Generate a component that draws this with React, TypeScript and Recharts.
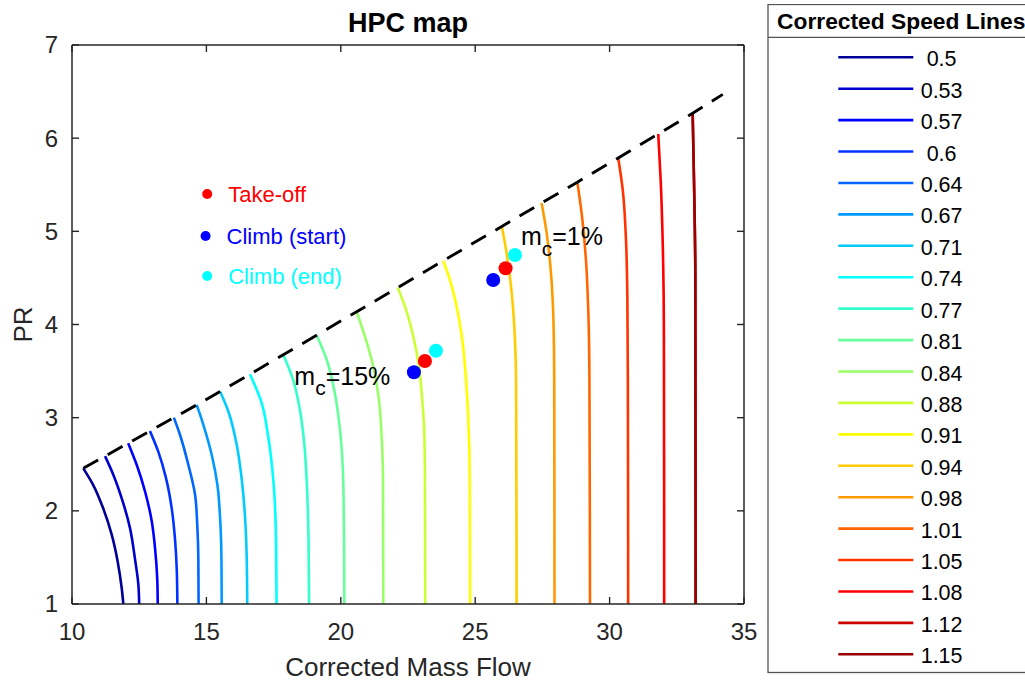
import React from 'react';
import { ComposedChart, Line, Scatter, XAxis, YAxis, Legend, Label } from 'recharts';

const FONT = '"Liberation Sans", Arial, Helvetica, sans-serif';
const AXIS_COLOR = '#262626';

const xTicks = [10, 15, 20, 25, 30, 35];
const yTicks = [1, 2, 3, 4, 5, 6, 7];

const speedLabels = [' 0.5', '0.53', '0.57', ' 0.6', '0.64', '0.67', '0.71', '0.74', '0.77', '0.81',
  '0.84', '0.88', '0.91', '0.94', '0.98', '1.01', '1.05', '1.08', '1.12', '1.15'];

const speedColors = ['#000099', '#0000CC', '#0000FF', '#0033FF', '#0066FF', '#0099FF', '#00CCFF', '#00FFFF',
  '#33FFCC', '#66FF99', '#99FF66', '#CCFF33', '#FFFF00', '#FFCC00', '#FF9900', '#FF6600', '#FF3300',
  '#FF0000', '#CC0000', '#990000'];

type P = { x: number; y: number };
const pts = (a: number[][]): P[] => a.map(([x, y]) => ({ x, y }));

const n050 = pts([[10.42, 2.456], [10.79, 2.277], [11.16, 2.027], [11.48, 1.741], [11.70, 1.454], [11.85, 1.169], [11.91, 1.0]]);
const n053 = pts([[11.23, 2.587], [11.54, 2.385], [11.85, 2.134], [12.16, 1.812], [12.34, 1.490], [12.47, 1.204], [12.50, 1.0]]);
const n057 = pts([[12.09, 2.726], [12.41, 2.492], [12.72, 2.205], [12.97, 1.883], [13.09, 1.598], [13.17, 1.276], [13.19, 1.0]]);
const n060 = pts([[12.90, 2.856], [13.21, 2.635], [13.50, 2.349], [13.71, 2.027], [13.83, 1.705], [13.90, 1.347], [13.92, 1.0]]);
const n064 = pts([[13.79, 3.000], [14.02, 2.814], [14.33, 2.492], [14.58, 2.170], [14.66, 1.848], [14.70, 1.490], [14.71, 1.0]]);
const n067 = pts([[14.64, 3.137], [14.89, 2.921], [15.20, 2.599], [15.41, 2.277], [15.51, 1.920], [15.56, 1.490], [15.57, 1.0]]);
const n071 = pts([[15.51, 3.281], [15.82, 3.064], [16.13, 2.707], [16.31, 2.349], [16.44, 1.920], [16.50, 1.490], [16.52, 1.0]]);
const n074 = pts([[16.62, 3.466], [17.06, 3.154], [17.30, 2.796], [17.49, 2.331], [17.59, 1.687], [17.61, 1.0]]);
const n077 = pts([[17.86, 3.675], [18.23, 3.404], [18.48, 3.082], [18.64, 2.725], [18.73, 2.331], [18.80, 1.687], [18.82, 1.0]]);
const n081 = pts([[19.10, 3.885], [19.48, 3.619], [19.78, 3.261], [19.97, 2.868], [20.09, 2.331], [20.12, 1.687], [20.13, 1.0]]);
const n084 = pts([[20.59, 4.137], [20.90, 3.869], [21.21, 3.547], [21.42, 3.190], [21.52, 2.796], [21.57, 2.331], [21.58, 1.0]]);
const n088 = pts([[22.12, 4.396], [22.39, 4.191], [22.70, 3.869], [22.91, 3.547], [23.03, 3.190], [23.11, 2.796], [23.13, 2.331], [23.14, 1.0]]);
const n091 = pts([[23.81, 4.684], [24.06, 4.478], [24.31, 4.191], [24.52, 3.834], [24.65, 3.440], [24.74, 3.011], [24.80, 2.331], [24.81, 1.0]]);
const n094 = pts([[25.99, 5.052], [26.17, 4.764], [26.36, 4.335], [26.48, 3.834], [26.52, 3.404], [26.54, 1.0]]);
const n098 = pts([[27.47, 5.304], [27.66, 4.979], [27.82, 4.549], [27.91, 4.048], [27.94, 3.404], [27.95, 1.0]]);
const n101 = pts([[28.80, 5.528], [28.96, 5.193], [29.12, 4.692], [29.21, 4.120], [29.25, 3.404], [29.27, 1.0]]);
const n105 = pts([[30.32, 5.787], [30.49, 5.443], [30.61, 4.907], [30.66, 4.298], [30.68, 3.404], [30.69, 1.0]]);
const n108 = pts([[31.81, 6.045], [31.90, 5.551], [31.98, 4.835], [32.02, 3.941], [32.03, 1.0]]);
const n112 = pts([[33.09, 6.267], [33.14, 5.551], [33.19, 4.477], [33.20, 1.0]]);
const n115 = pts([[33.09, 6.267], [33.14, 5.551], [33.19, 4.477], [33.20, 1.0]]);

const speedData = [n050, n053, n057, n060, n064, n067, n071, n074, n077, n081,
  n084, n088, n091, n094, n098, n101, n105, n108, n112, n115];

const surgeLine = pts([[10.42, 2.456], [11.23, 2.587], [12.09, 2.726], [12.90, 2.856], [13.79, 3.000], [14.64, 3.137],
  [15.51, 3.281], [16.62, 3.466], [17.86, 3.675], [19.10, 3.885], [20.59, 4.137], [22.12, 4.396], [23.81, 4.684],
  [25.99, 5.052], [27.47, 5.304], [28.80, 5.528], [30.32, 5.787], [31.81, 6.045], [33.09, 6.267], [34.21, 6.47]]);

const takeOff = pts([[23.13, 3.608], [26.13, 4.603]]);
const climbStart = pts([[22.72, 3.487], [25.67, 4.477]]);
const climbEnd = pts([[23.54, 3.719], [26.48, 4.746]]);

const keyItems = [
  { x: 15.03, y: 5.40, label: 'Take-off', color: '#FF0000' },
  { x: 14.97, y: 4.95, label: 'Climb (start)', color: '#0000FF' },
  { x: 15.03, y: 4.52, label: 'Climb (end)', color: '#00FFFF' },
];

const annotations = [
  { x: 26.70, y: 4.853, base: 'm', sub: 'c', rest: '=1%' },
  { x: 18.27, y: 3.351, base: 'm', sub: 'c', rest: '=15%' },
];

const BottomTick = (props: any) => {
  const { x, y, payload } = props;
  return (
    <g>
      <line x1={x} x2={x} y1={y} y2={y - 7} stroke={AXIS_COLOR} strokeWidth={1.4} />
      <text x={x} y={y + 36} textAnchor="middle" fontFamily={FONT} fontSize={24} fill={AXIS_COLOR}>{payload.value}</text>
    </g>
  );
};
const TopTick = (props: any) => {
  const { x, y } = props;
  return <line x1={x} x2={x} y1={y} y2={y + 7} stroke={AXIS_COLOR} strokeWidth={1.4} />;
};
const LeftTick = (props: any) => {
  const { x, y, payload } = props;
  return (
    <g>
      <line x1={x} x2={x + 7} y1={y} y2={y} stroke={AXIS_COLOR} strokeWidth={1.4} />
      <text x={x - 14} y={y + 8.4} textAnchor="end" fontFamily={FONT} fontSize={24} fill={AXIS_COLOR}>{payload.value}</text>
    </g>
  );
};
const RightTick = (props: any) => {
  const { x, y } = props;
  return <line x1={x} x2={x - 7} y1={y} y2={y} stroke={AXIS_COLOR} strokeWidth={1.4} />;
};

const XTitle = (props: any) => {
  const vb = props.viewBox || { x: 72, y: 604, width: 672, height: 76 };
  return (
    <text x={vb.x + vb.width / 2} y={vb.y + 71.5} textAnchor="middle" fontFamily={FONT} fontSize={26} fill={AXIS_COLOR}>
      Corrected Mass Flow
    </text>
  );
};
const YTitle = (props: any) => {
  const vb = props.viewBox || { x: 0, y: 45, width: 72, height: 559 };
  const cx = vb.x + 32;
  const cy = vb.y + vb.height / 2;
  return (
    <text x={cx} y={cy} transform={`rotate(-90, ${cx}, ${cy})`} textAnchor="middle" fontFamily={FONT} fontSize={26} fill={AXIS_COLOR}>
      PR
    </text>
  );
};
const ChartTitle = (props: any) => {
  const vb = props.viewBox || { x: 72, y: 44, width: 672, height: 1 };
  return (
    <text x={vb.x + vb.width / 2} y={vb.y - 12.5} textAnchor="middle" fontFamily={FONT} fontSize={27} fontWeight="bold" fill="#000">
      HPC map
    </text>
  );
};

const LegendBox = (props: any) => {
  const items = (props.payload || [])
    .filter((e: any) => e.type !== 'none' && speedLabels.indexOf(e.value) >= 0)
    .sort((a: any, b: any) => speedLabels.indexOf(a.value) - speedLabels.indexOf(b.value));
  return (
    <svg width={258} height={670} style={{ display: 'block' }}>
      <rect x={1} y={0.5} width={400} height={668} fill="#fff" stroke="#555" strokeWidth={1.3} />
      <text x={10} y={24.5} fontFamily={FONT} fontSize={22.8} fontWeight="bold" fill="#000">Corrected Speed Lines</text>
      <line x1={1} x2={258} y1={33.3} y2={33.3} stroke="#555" strokeWidth={1.3} />
      {items.map((e: any, i: number) => {
        const y = 53.3 + 31.42 * i;
        return (
          <g key={e.value}>
            <line x1={71.3} x2={146.3} y1={y} y2={y} stroke={e.color} strokeWidth={2.6} />
            <text x={153.7} y={y + 9} fontFamily={FONT} fontSize={21.5} fill="#000" style={{ whiteSpace: 'pre' }}>{e.value}</text>
          </g>
        );
      })}
    </svg>
  );
};

const dotShape = (color: string) => (p: any) => (
  <circle cx={p.cx} cy={p.cy} r={7} fill={color} stroke="none" />
);

const keyShape = (p: any) => {
  const d = p.payload;
  return (
    <g>
      <circle cx={p.cx} cy={p.cy} r={5} fill={d.color} />
      <text x={p.cx + 21} y={p.cy + 7.8} fontFamily={FONT} fontSize={22} fill={d.color}>{d.label}</text>
    </g>
  );
};

const annShape = (p: any) => {
  const d = p.payload;
  return (
    <text x={p.cx} y={p.cy} fontFamily={FONT} fontSize={25} fill="#000">
      {d.base}
      <tspan dy={10.5} fontSize={21}>{d.sub}</tspan>
      <tspan dy={-10.5} fontSize={25}>{d.rest}</tspan>
    </text>
  );
};

export default function App() {
  return (
    <div style={{ position: 'absolute', left: 0, top: 0, width: 1025, height: 680, background: '#fff', fontFamily: FONT }}>
      <ComposedChart width={1025} height={680} margin={{ top: 44, right: 280, bottom: 0, left: 0 }}>
        <XAxis xAxisId={0} dataKey="x" type="number" domain={[10, 35]} ticks={xTicks} interval={0}
          allowDataOverflow tickSize={0} tickMargin={0} tickLine={false} tick={<BottomTick />}
          axisLine={{ stroke: AXIS_COLOR, strokeWidth: 1.5 }} height={76}>
          <Label content={XTitle} />
        </XAxis>
        <XAxis xAxisId="top" orientation="top" dataKey="x" type="number" domain={[10, 35]} ticks={xTicks} interval={0}
          allowDataOverflow tickSize={0} tickMargin={0} tickLine={false} tick={<TopTick />}
          axisLine={{ stroke: AXIS_COLOR, strokeWidth: 1.5 }} height={1}>
          <Label content={ChartTitle} />
        </XAxis>
        <YAxis yAxisId={0} type="number" domain={[1, 7]} ticks={yTicks} interval={0}
          allowDataOverflow tickSize={0} tickMargin={0} tickLine={false} tick={<LeftTick />}
          axisLine={{ stroke: AXIS_COLOR, strokeWidth: 1.5 }} width={72}>
          <Label content={YTitle} />
        </YAxis>
        <YAxis yAxisId="right" orientation="right" type="number" domain={[1, 7]} ticks={yTicks} interval={0}
          allowDataOverflow tickSize={0} tickMargin={0} tickLine={false} tick={<RightTick />}
          axisLine={{ stroke: AXIS_COLOR, strokeWidth: 1.5 }} width={1} />

        {speedData.map((d, i) => (
          <Line key={speedLabels[i]} data={d} dataKey="y" name={speedLabels[i]} type="monotoneY"
            stroke={speedColors[i]} strokeWidth={2.6} dot={false} activeDot={false} isAnimationActive={false} />
        ))}

        <Line data={surgeLine} dataKey="y" name="surge" type="linear" stroke="#000" strokeWidth={2.9}
          strokeDasharray="17 11" dot={false} activeDot={false} legendType="none" isAnimationActive={false} />

        <Scatter data={climbStart} dataKey="y" name="climbStart" shape={dotShape('#0000FF')} legendType="none" isAnimationActive={false} />
        <Scatter data={climbEnd} dataKey="y" name="climbEnd" shape={dotShape('#00FFFF')} legendType="none" isAnimationActive={false} />
        <Scatter data={takeOff} dataKey="y" name="takeOff" shape={dotShape('#FF0000')} legendType="none" isAnimationActive={false} />
        <Scatter data={keyItems} dataKey="y" name="keys" shape={keyShape} legendType="none" isAnimationActive={false} />
        <Scatter data={annotations} dataKey="y" name="annotations" shape={annShape} legendType="none" isAnimationActive={false} />

        <Legend content={LegendBox} layout="vertical" align="center" verticalAlign="middle"
          wrapperStyle={{ position: 'absolute', left: 767, top: 4, width: 258, height: 670, overflow: 'hidden' }} />
      </ComposedChart>
    </div>
  );
}
